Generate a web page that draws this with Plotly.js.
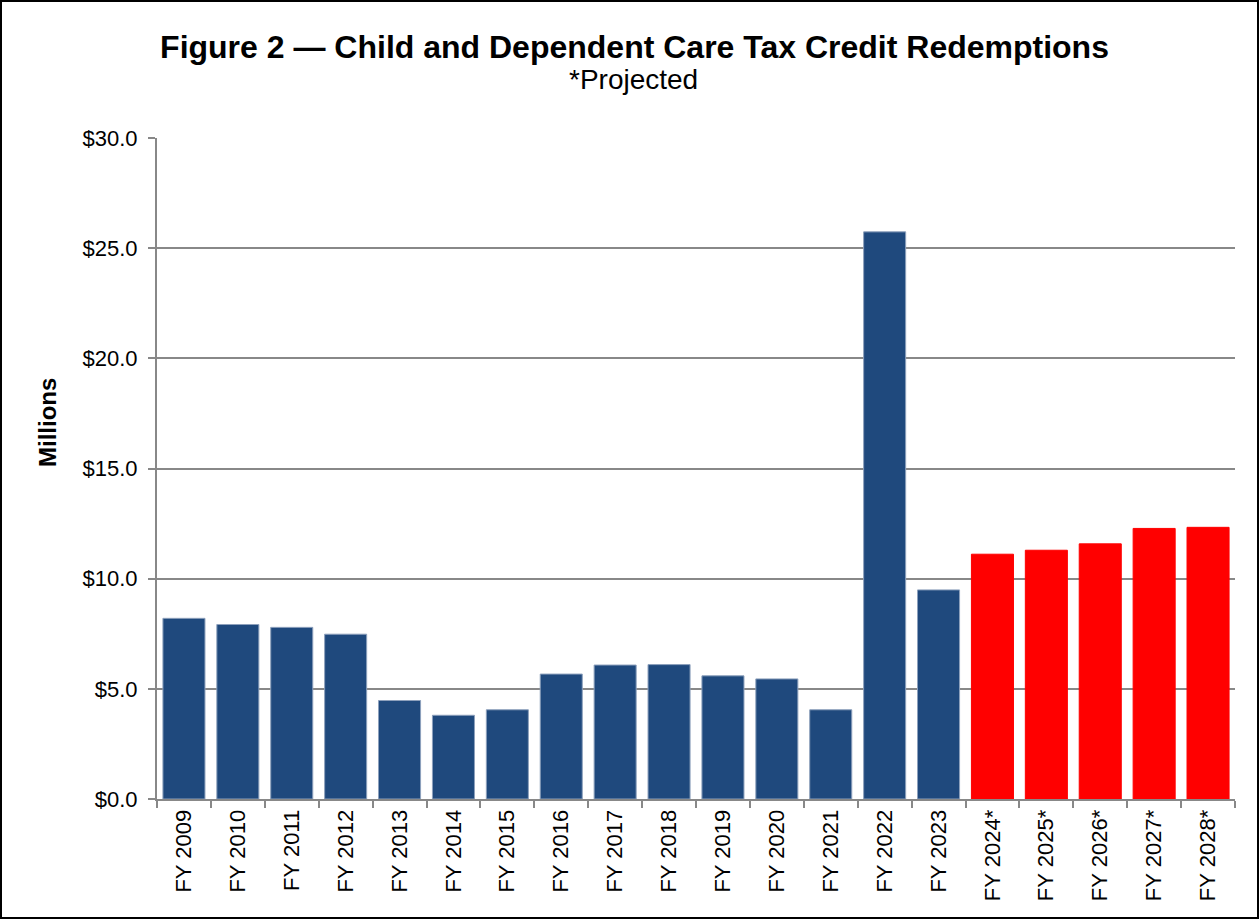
<!DOCTYPE html>
<html>
<head>
<meta charset="utf-8">
<script src="https://cdn.plot.ly/plotly-3.0.1.min.js"></script>
<style>
  html, body { margin: 0; padding: 0; background: #fff; }
  #wrap { width: 1259px; height: 919px; box-sizing: border-box; border: 2px solid #000; }
  #chart { width: 1255px; height: 915px; }
</style>
</head>
<body>
<div id="wrap"><div id="chart"></div></div>
<script>
const categories = ["FY 2009","FY 2010","FY 2011","FY 2012","FY 2013","FY 2014","FY 2015","FY 2016","FY 2017","FY 2018","FY 2019","FY 2020","FY 2021","FY 2022","FY 2023","FY 2024*","FY 2025*","FY 2026*","FY 2027*","FY 2028*"];
const values = [8.20, 7.92, 7.79, 7.48, 4.47, 3.80, 4.05, 5.67, 6.08, 6.10, 5.59, 5.45, 4.05, 25.74, 9.49, 11.11, 11.29, 11.58, 12.28, 12.33];
const projected = [false,false,false,false,false,false,false,false,false,false,false,false,false,false,false,true,true,true,true,true];

const actualColor = "#1F497D";
const projColor = "#FF0000";
const fillColors = projected.map(p => p ? projColor : actualColor);
const edgeColors = projected.map(p => p ? projColor : "#8DA0BC");

const font = "Liberation Sans, Arial, sans-serif";

const trace = {
  type: "bar",
  x: categories,
  y: values,
  marker: { color: fillColors, line: { color: edgeColors, width: 1 } },
  hoverinfo: "x+y"
};

const layout = {
  width: 1255, height: 915,
  margin: { l: 155, r: 22, t: 136, b: 118 },
  paper_bgcolor: "#fff", plot_bgcolor: "#fff",
  bargap: 0.22,
  showlegend: false,
  font: { family: font, color: "#000" },
  title: {
    text: "<b>Figure 2 — Child and Dependent Care Tax Credit Redemptions</b>",
    font: { family: font, size: 32, color: "#000" },
    xref: "container", x: 0.504, xanchor: "center",
    yref: "container", y: 1 - 45/915, yanchor: "middle"
  },
  xaxis: {
    type: "category",
    tickangle: -90,
    tickfont: { family: font, size: 22, color: "#000" },
    showline: true, linecolor: "#888", linewidth: 2,
    ticks: "outside", tickson: "boundaries", ticklen: 7, tickcolor: "#888", tickwidth: 2,
    showgrid: false
  },
  yaxis: {
    range: [0, 30], dtick: 5, tick0: 0,
    tickprefix: "$", tickformat: ".1f",
    tickfont: { family: font, size: 22, color: "#000" },
    ticklabelstandoff: 6,
    showline: true, linecolor: "#888", linewidth: 2,
    ticks: "outside", ticklen: 7, tickcolor: "#888", tickwidth: 2,
    showgrid: true, gridcolor: "#888", gridwidth: 2,
    zeroline: false
  },
  annotations: [
    {
      text: "*Projected", showarrow: false,
      xref: "paper", x: (631-155)/1078, xanchor: "center",
      yref: "paper", y: (797-77)/661, yanchor: "middle",
      font: { family: font, size: 28, color: "#000" }
    },
    {
      text: "<b>Millions</b>", showarrow: false, textangle: -90,
      xref: "paper", x: (45-155)/1078, xanchor: "center",
      yref: "paper", y: (797-421)/661, yanchor: "middle",
      font: { family: font, size: 24, color: "#000" }
    }
  ]
};

Plotly.newPlot("chart", [trace], layout, { displayModeBar: false, staticPlot: true });
</script>
</body>
</html>
